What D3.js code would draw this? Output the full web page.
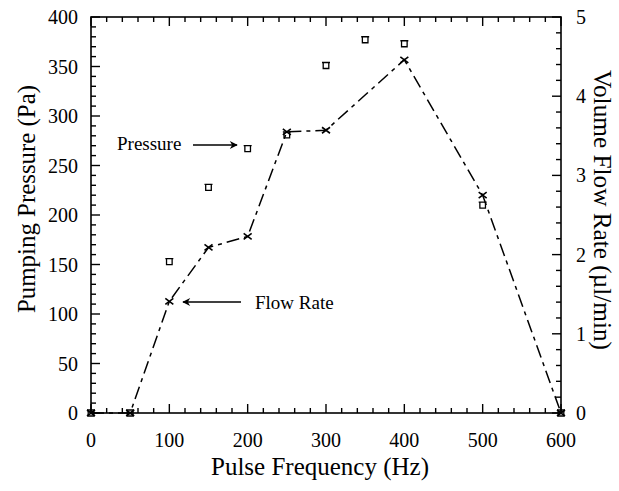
<!DOCTYPE html>
<html>
<head>
<meta charset="utf-8">
<script src="https://cdn.jsdelivr.net/npm/d3@7"></script>
<style>
  body { margin: 0; background: #fff; }
</style>
</head>
<body>
<div id="chart"></div>
<script>
// frequencies (Hz)
const pressureFreq = [0, 50, 100, 150, 200, 250, 300, 350, 400, 500, 600];
const pressureVals = [0, 0, 153, 228, 267, 281, 351, 377, 373, 210, 0];
const flowFreq = [0, 50, 100, 150, 200, 250, 300, 400, 500, 600];
const flowVals = [0, 0, 1.41, 2.09, 2.23, 3.55, 3.57, 4.46, 2.75, 0];
const xTicks = [0, 100, 200, 300, 400, 500, 600];
const yLeftTicks = [0, 50, 100, 150, 200, 250, 300, 350, 400];
const yRightTicks = [0, 1, 2, 3, 4, 5];

const width = 619, height = 491;
const margin = { left: 91, right: 58, top: 17, bottom: 78 };
const serif = "'Liberation Serif', 'Times New Roman', 'DejaVu Serif', serif";

const svg = d3.select("#chart").append("svg")
  .attr("width", width)
  .attr("height", height)
  .attr("font-family", serif);

const x = d3.scaleLinear().domain([0, 600]).range([margin.left, width - margin.right]);
const yL = d3.scaleLinear().domain([0, 400]).range([height - margin.bottom, margin.top]);
const yR = d3.scaleLinear().domain([0, 5]).range([height - margin.bottom, margin.top]);

const x0 = x(0), x1 = x(600), y0 = yL(0), y1 = yL(400);

// frame
svg.append("rect")
  .attr("x", x0).attr("y", y1)
  .attr("width", x1 - x0).attr("height", y0 - y1)
  .attr("fill", "none").attr("stroke", "#000").attr("stroke-width", 1.6);

const ticks = svg.append("g").attr("stroke", "#000").attr("stroke-width", 1.4);

// x ticks bottom + top, inward
d3.range(0, 601, 20).forEach(v => {
  const len = v % 100 === 0 ? 9 : 5;
  ticks.append("line").attr("x1", x(v)).attr("x2", x(v)).attr("y1", y0).attr("y2", y0 - len);
  ticks.append("line").attr("x1", x(v)).attr("x2", x(v)).attr("y1", y1).attr("y2", y1 + len);
});
// left ticks
d3.range(0, 401, 10).forEach(v => {
  const len = v % 50 === 0 ? 9 : 5;
  ticks.append("line").attr("x1", x0).attr("x2", x0 + len).attr("y1", yL(v)).attr("y2", yL(v));
});
// right ticks
d3.range(0, 26).map(i => i * 0.2).forEach((v, i) => {
  const len = i % 5 === 0 ? 9 : 5;
  ticks.append("line").attr("x1", x1).attr("x2", x1 - len).attr("y1", yR(v)).attr("y2", yR(v));
});

// tick labels
svg.append("g").selectAll("text").data(xTicks).join("text")
  .attr("x", d => x(d)).attr("y", 447)
  .attr("text-anchor", "middle").attr("font-size", 20)
  .text(d => d);
svg.append("g").selectAll("text").data(yLeftTicks).join("text")
  .attr("x", 78).attr("y", d => yL(d) + 7)
  .attr("text-anchor", "end").attr("font-size", 20)
  .text(d => d);
svg.append("g").selectAll("text").data(yRightTicks).join("text")
  .attr("x", 576).attr("y", d => yR(d) + 7)
  .attr("text-anchor", "start").attr("font-size", 20)
  .text(d => d);

// axis titles
svg.append("text")
  .attr("x", 320).attr("y", 475)
  .attr("text-anchor", "middle").attr("font-size", 25)
  .attr("textLength", 218).attr("lengthAdjust", "spacingAndGlyphs")
  .text("Pulse Frequency (Hz)");
svg.append("text")
  .attr("transform", `translate(35, 199) rotate(-90)`)
  .attr("text-anchor", "middle").attr("font-size", 25)
  .attr("textLength", 228).attr("lengthAdjust", "spacingAndGlyphs")
  .text("Pumping Pressure (Pa)");
svg.append("text")
  .attr("transform", `translate(594, 210) rotate(90)`)
  .attr("text-anchor", "middle").attr("font-size", 25)
  .attr("textLength", 280).attr("lengthAdjust", "spacingAndGlyphs")
  .text("Volume Flow Rate (\u00b5l/min)");

// flow rate line
const flowData = flowFreq.map((f, i) => [f, flowVals[i]]);
const line = d3.line()
  .x(d => x(d[0])).y(d => yR(d[1]));
svg.append("path")
  .datum(flowData)
  .attr("d", line)
  .attr("fill", "none").attr("stroke", "#000").attr("stroke-width", 1.5)
  .attr("stroke-dasharray", "13,5,4,5");

// flow markers (x)
svg.append("g").selectAll("path").data(flowData).join("path")
  .attr("transform", d => `translate(${x(d[0])},${yR(d[1])})`)
  .attr("d", "M-4,-3L4,3M-4,3L4,-3")
  .attr("stroke", "#000").attr("stroke-width", 1.6).attr("fill", "none");

// pressure markers (small squares)
const pressData = pressureFreq.map((f, i) => [f, pressureVals[i]]);
svg.append("g").selectAll("path").data(pressData).join("path")
  .attr("transform", d => `translate(${x(d[0])},${yL(d[1])})`)
  .attr("d", "M-4,-3H4M-2.8,-3V3H2.8V-3")
  .attr("stroke", "#000").attr("stroke-width", 1.3).attr("fill", "none");

// annotations
svg.append("defs").append("marker")
  .attr("id", "arr").attr("viewBox", "0 0 10 10")
  .attr("refX", 9).attr("refY", 5)
  .attr("markerWidth", 12).attr("markerHeight", 8)
  .attr("markerUnits", "userSpaceOnUse")
  .attr("orient", "auto")
  .append("path").attr("d", "M0,0L10,5L0,10L3,5Z").attr("fill", "#000");

svg.append("text")
  .attr("x", 117).attr("y", 150).attr("font-size", 19)
  .text("Pressure");
svg.append("line")
  .attr("x1", 193).attr("x2", 237).attr("y1", 145).attr("y2", 145)
  .attr("stroke", "#000").attr("stroke-width", 1.5).attr("marker-end", "url(#arr)");

svg.append("text")
  .attr("x", 255).attr("y", 309).attr("font-size", 19)
  .text("Flow Rate");
svg.append("line")
  .attr("x1", 241).attr("x2", 183).attr("y1", 302).attr("y2", 302)
  .attr("stroke", "#000").attr("stroke-width", 1.5).attr("marker-end", "url(#arr)");
</script>
</body>
</html>
